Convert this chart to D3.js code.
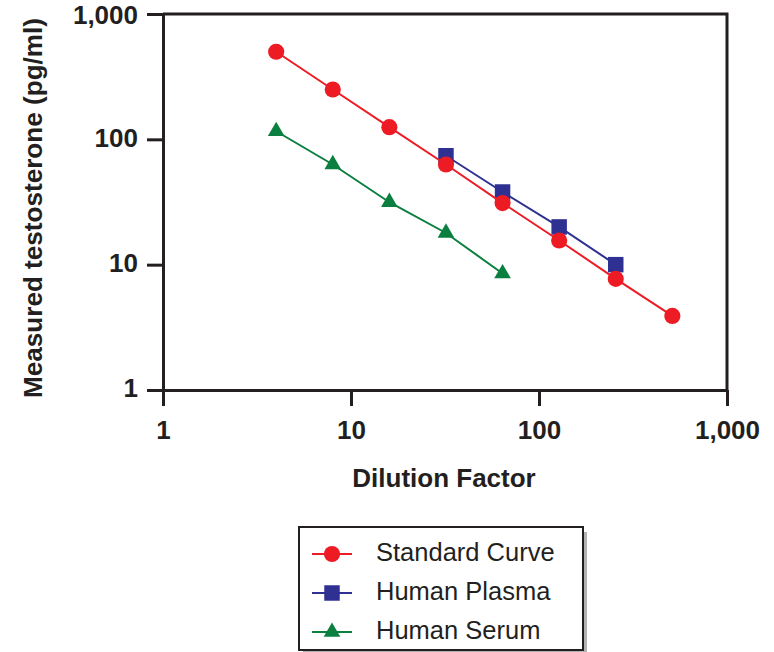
<!DOCTYPE html>
<html>
<head>
<meta charset="utf-8">
<script src="https://cdn.jsdelivr.net/npm/d3@7"></script>
<style>
  body { margin: 0; background: #fff; }
  text { font-family: "Liberation Sans", Arial, sans-serif; }
</style>
</head>
<body>
<script>
// dilution factors and measured values (pg/ml)
const stdX = [4, 8, 16, 32, 64, 128, 256, 512];
const stdY = [500, 250, 125, 63, 31, 15.6, 7.7, 3.9];
const plasmaX = [32, 64, 128, 256];
const plasmaY = [74, 38, 20, 10];
const serumX = [4, 8, 16, 32, 64];
const serumY = [116, 63, 31.5, 17.9, 8.5];
const tickValues = [1, 10, 100, 1000];

const width = 774, height = 652;
const mLeft = 163, mRight = 727, mTop = 14, mBottom = 390;

const svg = d3.select("body").append("svg")
    .attr("width", width)
    .attr("height", height);

const x = d3.scaleLog().domain([1, 1000]).range([mLeft, mRight]);
const y = d3.scaleLog().domain([1, 1000]).range([mBottom, mTop]);
const fmt = d3.format(",");
const axisColor = "#231f20";

// frame (top + right)
svg.append("path")
    .attr("d", `M${mLeft},${mTop}H${mRight}V${mBottom}`)
    .attr("fill", "none")
    .attr("stroke", axisColor)
    .attr("stroke-width", 3);

const xAxis = svg.append("g")
    .attr("transform", `translate(0,${mBottom})`)
    .call(d3.axisBottom(x).tickValues(tickValues).tickFormat(fmt).tickSize(16).tickSizeOuter(0));
const yAxis = svg.append("g")
    .attr("transform", `translate(${mLeft},0)`)
    .call(d3.axisLeft(y).tickValues(tickValues).tickFormat(fmt).tickSize(16).tickSizeOuter(0));

[xAxis, yAxis].forEach(g => {
    g.select(".domain").attr("stroke", axisColor).attr("stroke-width", 3);
    g.selectAll(".tick line").attr("stroke", axisColor).attr("stroke-width", 3);
    g.selectAll(".tick text")
        .attr("fill", axisColor)
        .style("font-size", "26px")
        .style("font-weight", "bold");
});
xAxis.selectAll(".tick text").attr("dy", null).attr("y", 42).attr("dominant-baseline", "middle");
yAxis.selectAll(".tick text")
    .attr("dy", d => d === 1000 ? 3 : 0)
    .attr("x", -25)
    .attr("dominant-baseline", "middle");

// axis titles
svg.append("text")
    .attr("x", 444)
    .attr("y", 487)
    .attr("text-anchor", "middle")
    .attr("fill", axisColor)
    .style("font-size", "26px")
    .style("font-weight", "bold")
    .text("Dilution Factor");

svg.append("text")
    .attr("transform", "translate(42,208) rotate(-90)")
    .attr("text-anchor", "middle")
    .attr("fill", axisColor)
    .attr("textLength", 380)
    .attr("lengthAdjust", "spacingAndGlyphs")
    .style("font-size", "26px")
    .style("font-weight", "bold")
    .text("Measured testosterone (pg/ml)");

const series = [
    {name: "Standard Curve", xs: stdX, ys: stdY, color: "#ed1c24", shape: d3.symbolCircle, size: 205},
    {name: "Human Plasma", xs: plasmaX, ys: plasmaY, color: "#2e3192", shape: d3.symbolSquare, size: 240},
    {name: "Human Serum", xs: serumX, ys: serumY, color: "#0b7f3f", shape: d3.symbolTriangle, size: 120}
];

const line = d3.line().x(d => x(d[0])).y(d => y(d[1]));

// draw in order: serum, plasma, standard (standard on top)
[series[2], series[1], series[0]].forEach(s => {
    const pts = s.xs.map((v, i) => [v, s.ys[i]]);
    svg.append("path")
        .datum(pts)
        .attr("d", line)
        .attr("fill", "none")
        .attr("stroke", s.color)
        .attr("stroke-width", 2);
    svg.append("g").selectAll("path")
        .data(pts)
        .join("path")
        .attr("transform", d => `translate(${x(d[0])},${y(d[1])})`)
        .attr("d", d3.symbol().type(s.shape).size(s.size))
        .attr("fill", s.color);
});

// legend
const lg = svg.append("g").attr("transform", "translate(299,527)");
lg.append("rect")
    .attr("x", 4).attr("y", 5)
    .attr("width", 284).attr("height", 123)
    .attr("fill", "#b3b3b3");
lg.append("rect")
    .attr("width", 284).attr("height", 123)
    .attr("fill", "#fff")
    .attr("stroke", axisColor)
    .attr("stroke-width", 2);

series.forEach((s, i) => {
    const row = lg.append("g").attr("transform", `translate(0,${27 + i * 39})`);
    row.append("line")
        .attr("x1", 13).attr("x2", 53)
        .attr("stroke", s.color)
        .attr("stroke-width", 2);
    row.append("path")
        .attr("transform", "translate(33,0)")
        .attr("d", d3.symbol().type(s.shape).size(s.size))
        .attr("fill", s.color);
    row.append("text")
        .attr("x", 77)
        .attr("dominant-baseline", "middle")
        .attr("fill", axisColor)
        .style("font-size", "25.5px")
        .text(s.name);
});
</script>
</body>
</html>
